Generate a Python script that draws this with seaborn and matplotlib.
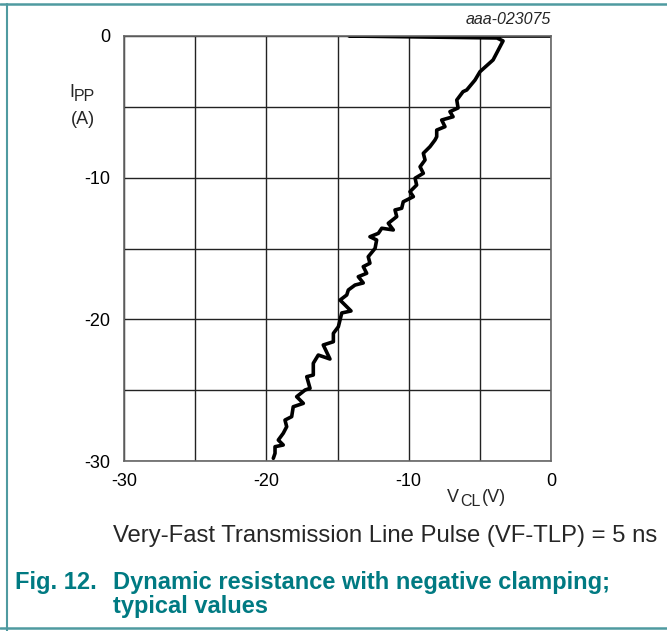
import numpy as np
import pandas as pd
import matplotlib
matplotlib.use("Agg")
import matplotlib.pyplot as plt
from matplotlib.lines import Line2D
import seaborn as sns

# ── Data (VF-TLP sweep, negative clamping) ────────────────────────────────────
V_CL = [0.0, -14.19, -3.79, -3.37, -3.46, -4.07, -4.99, -5.34, -5.92, -6.18,
        -6.62, -6.53, -7.10, -6.88, -7.68, -7.45, -8.03, -8.03, -8.15, -8.50,
        -8.97, -8.85, -9.20, -8.97, -9.55, -9.44, -9.91, -9.67, -10.38, -10.49,
        -10.96, -10.84, -11.43, -11.08, -11.89, -12.13, -12.72, -12.25, -12.36,
        -12.84, -12.72, -13.19, -12.95, -13.54, -13.19, -13.77, -14.24, -14.35,
        -14.82, -14.05, -14.70, -14.94, -15.29, -15.29, -16.00, -15.53, -16.35,
        -16.70, -16.70, -17.16, -16.93, -17.28, -17.87, -17.40, -18.11, -18.22,
        -18.69, -18.57, -18.81, -19.16, -18.81, -19.39, -19.39, -19.51]
I_PP = [0.0, 0.0, -0.14, -0.35, -0.52, -1.69, -2.52, -3.11, -3.81, -3.93,
        -4.52, -5.08, -5.34, -5.70, -5.93, -6.40, -6.64, -7.11, -7.34, -7.81,
        -8.28, -8.75, -9.23, -9.69, -10.04, -10.52, -10.99, -11.34, -11.70,
        -12.16, -12.28, -12.75, -13.22, -13.69, -13.57, -13.93, -14.17, -14.40,
        -14.99, -15.58, -16.04, -16.28, -16.75, -16.99, -17.43, -17.58, -17.93,
        -18.28, -18.64, -19.41, -19.55, -20.52, -20.99, -21.58, -21.81, -22.80,
        -22.52, -23.10, -23.93, -24.05, -24.87, -24.99, -25.46, -25.93, -26.17,
        -26.87, -27.11, -27.58, -28.04, -28.52, -28.87, -28.99, -29.46, -29.81]
X_TICKS = [-30, -20, -10, 0]
Y_TICKS = [0, -10, -20, -30]

TEAL = "#007a82"
FRAME = "#4f9aa0"

df = pd.DataFrame({"V_CL": V_CL, "I_PP": I_PP})

sns.set_theme(style="white")
plt.rcParams["font.family"] = ["Liberation Sans", "DejaVu Sans"]

fig = plt.figure(figsize=(6.67, 6.31), dpi=100)
ax = fig.add_axes([124 / 667, 1 - 461 / 631, 427 / 667, 425 / 631])

sns.lineplot(data=df, x="V_CL", y="I_PP", sort=False, estimator=None,
             color="black", linewidth=2.6, ax=ax)

ax.set_xlim(-30, 0)
ax.set_ylim(-30, 0)
ax.set_xticks(np.arange(-30, 1, 5))
ax.set_yticks(np.arange(-30, 1, 5))
ax.set_xticklabels([str(t) if t in X_TICKS else "" for t in np.arange(-30, 1, 5)])
ax.set_yticklabels([str(t) if t in Y_TICKS else "" for t in np.arange(-30, 1, 5)])
ax.tick_params(axis="x", length=0, labelsize=13, colors="black", pad=9)
ax.tick_params(axis="y", length=0, labelsize=13, colors="black", pad=10)
ax.grid(True, color="#222222", linewidth=1.0)
ax.set_axisbelow(True)
for s in ax.spines.values():
    s.set_color("#666666")
    s.set_linewidth(1.2)
ax.set_xlabel("")
ax.set_ylabel("")

# axis labels placed like the datasheet (subscripts as separate texts)
fig.text(69 / 667, 1 - 97 / 631, "I", fontsize=13, ha="left", va="baseline")
fig.text(74 / 667, 1 - 101 / 631, "PP", fontsize=11.5, ha="left", va="baseline")
fig.text(83 / 667, 1 - 119 / 631, "(A)", fontsize=13, ha="center", va="center")
fig.text(447 / 667, 1 - 502 / 631, "V", fontsize=13, ha="left", va="baseline")
fig.text(460 / 667, 1 - 506 / 631, "CL", fontsize=11.5, ha="left", va="baseline")
fig.text(482 / 667, 1 - 502 / 631, "(V)", fontsize=13, ha="left", va="baseline")
fig.text(551 / 667, 1 - 19 / 631, "aaa-023075", fontsize=11.5, style="italic",
         ha="right", va="center")

fig.text(113 / 667, 1 - 536 / 631,
         "Very-Fast Transmission Line Pulse (VF-TLP) = 5 ns",
         fontsize=17.2, ha="left", va="center")

fig.text(15 / 667, 1 - 582 / 631, "Fig. 12.", fontsize=17, weight="bold",
         color=TEAL, ha="left", va="center")
fig.text(113 / 667, 1 - 582 / 631, "Dynamic resistance with negative clamping;",
         fontsize=17, weight="bold", color=TEAL, ha="left", va="center")
fig.text(113 / 667, 1 - 607 / 631, "typical values", fontsize=17, weight="bold",
         color=TEAL, ha="left", va="center")

# datasheet frame lines
fig.add_artist(Line2D([0, 1], [1 - 4 / 631] * 2, color=FRAME, linewidth=1.8,
                      transform=fig.transFigure))
fig.add_artist(Line2D([0, 1], [1 - 628 / 631] * 2, color=FRAME, linewidth=1.8,
                      transform=fig.transFigure))
fig.add_artist(Line2D([7 / 667] * 2, [0, 1 - 4 / 631], color=FRAME,
                      linewidth=1.5, transform=fig.transFigure))

fig.savefig("out.png", dpi=100)
